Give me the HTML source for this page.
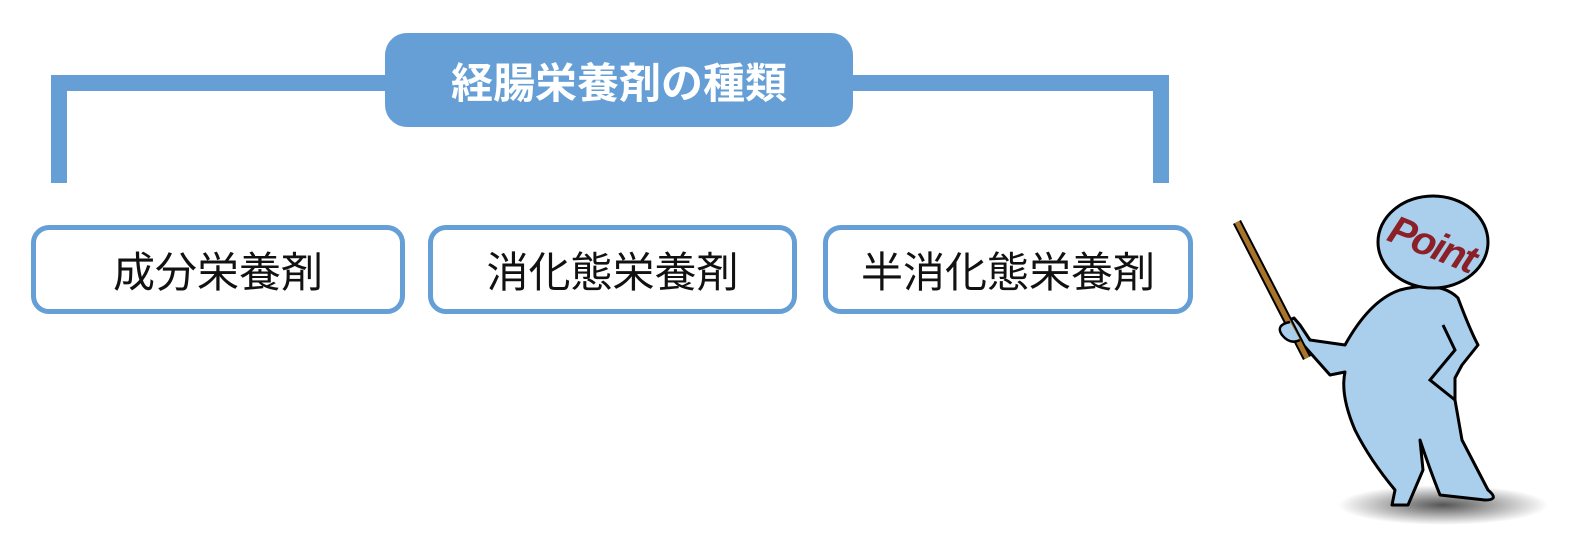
<!DOCTYPE html>
<html><head><meta charset="utf-8"><style>
body{margin:0;width:1589px;height:541px;background:#fff;overflow:hidden;position:relative;font-family:"Liberation Sans","Noto Sans CJK JP",sans-serif}
.b{position:absolute;background:#659fd6}
.box{position:absolute;top:225px;height:79px;border:5px solid #659fd6;border-radius:18px;background:#fff;display:flex;align-items:center;justify-content:center;font-size:42px;color:#111}
</style></head><body>
<div class="b" style="left:51px;top:75px;width:16px;height:108px"></div>
<div class="b" style="left:51px;top:75px;width:1118px;height:16px"></div>
<div class="b" style="left:1153px;top:75px;width:16px;height:108px"></div>
<div class="b" style="left:385px;top:33px;width:468px;height:94px;border-radius:22px;color:#fff;font-weight:bold;font-size:42px;display:flex;align-items:center;justify-content:center">経腸栄養剤の種類</div>
<div class="box" style="left:31px;width:364px">成分栄養剤</div>
<div class="box" style="left:428px;width:359px">消化態栄養剤</div>
<div class="box" style="left:823px;width:360px">半消化態栄養剤</div>
<svg style="position:absolute;left:0;top:0" width="1589" height="541">
<defs><radialGradient id="s"><stop offset="0" stop-color="#555"/><stop offset="1" stop-color="#fff"/></radialGradient></defs>
<ellipse cx="1443" cy="505" rx="105" ry="20" fill="url(#s)"/>
<path d="M1330,375 L1290,330 L1285,322 L1294,318 L1300,325 L1310,340 L1345,345 Q1370,300 1400,290 Q1440,280 1458,298 Q1470,330 1478,345 L1462,365 L1455,378 L1455,400 L1462,440 L1488,490 Q1500,500 1485,500 L1440,495 Q1430,470 1420,440 L1423,470 L1408,505 L1392,505 L1395,490 Q1370,460 1355,430 Q1340,395 1345,372 Z" fill="#aacfec" stroke="#000" stroke-width="3" stroke-linejoin="round"/>
<path d="M1443,325 L1455,350 L1430,380 L1455,400" fill="none" stroke="#000" stroke-width="3"/>
<line x1="1237" y1="222" x2="1307" y2="358" stroke="#000" stroke-width="9"/>
<line x1="1237" y1="222" x2="1307" y2="358" stroke="#a8742a" stroke-width="5"/>
<path d="M1290,322 Q1275,325 1282,335 Q1290,345 1300,340" fill="#aacfec" stroke="#000" stroke-width="2.5"/>
<ellipse cx="1433" cy="242" rx="55" ry="46" fill="#aacfec" stroke="#000" stroke-width="3"/>
<text x="1433" y="258" font-family="Liberation Sans" font-weight="bold" font-style="italic" font-size="40" fill="#8b2028" text-anchor="middle" transform="rotate(22 1433 245)" textLength="92">Point</text>
</svg>
</body></html>
